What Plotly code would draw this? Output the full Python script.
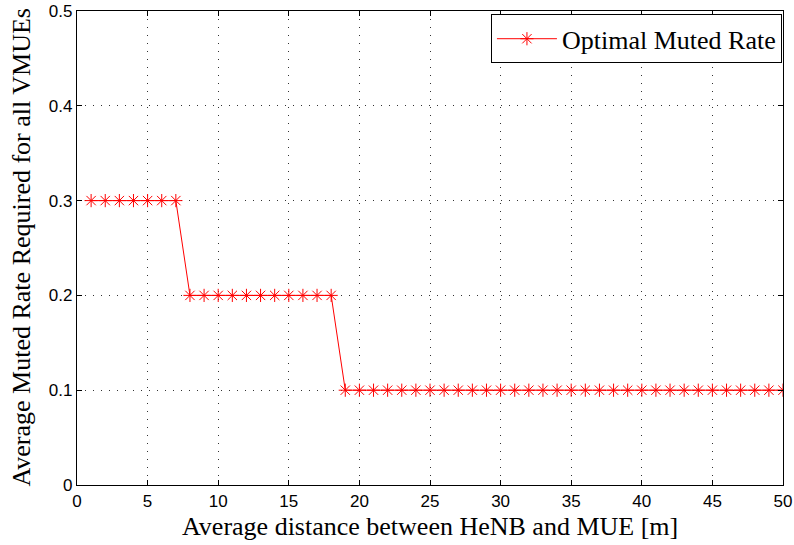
import plotly.graph_objects as go

distance = list(range(1, 51))
muted_rate = [0.3]*7 + [0.2]*11 + [0.1]*32
x_ticks = [0, 5, 10, 15, 20, 25, 30, 35, 40, 45, 50]
y_ticks = [0, 0.1, 0.2, 0.3, 0.4, 0.5]
y_labels = ["0", "0.1", "0.2", "0.3", "0.4", "0.5"]

serif = "Liberation Serif, Times New Roman, serif"
sans = "Liberation Sans, Arial, sans-serif"

fig = go.Figure()
fig.add_trace(go.Scatter(
    x=distance, y=muted_rate, mode="lines+markers",
    name="Optimal Muted Rate",
    line=dict(color="red", width=1),
    marker=dict(symbol="asterisk-open", size=11, color="red",
                line=dict(color="red", width=1)),
))

axis_common = dict(
    showline=True, linecolor="black", linewidth=1.3, mirror="allticks",
    ticks="inside", ticklen=5, tickcolor="black",
    showgrid=True, gridcolor="#333333", griddash="1px,7px", gridwidth=1,
    zeroline=False, automargin=False,
    tickfont=dict(family=sans, size=17, color="black"),
)

fig.update_xaxes(range=[0, 50], tickvals=x_ticks, **axis_common)
fig.update_yaxes(range=[0, 0.5], tickvals=y_ticks, ticktext=y_labels, **axis_common)

fig.add_annotation(text="Average distance between HeNB and MUE [m]",
                   xref="paper", yref="paper", x=0.5, y=-0.088,
                   xanchor="center", yanchor="middle", showarrow=False,
                   font=dict(family=serif, size=26, color="black"))
fig.add_annotation(text="Average Muted Rate Required for all VMUEs",
                   xref="paper", yref="paper", x=-0.08, y=0.5, textangle=-90,
                   xanchor="center", yanchor="middle", showarrow=False,
                   font=dict(family=serif, size=26, color="black"))

fig.update_layout(
    width=794, height=545,
    margin=dict(l=77, r=11, t=11, b=60),
    plot_bgcolor="white", paper_bgcolor="white",
    showlegend=True,
    legend=dict(x=0.9985, y=0.993, xanchor="right", yanchor="top",
                bordercolor="black", borderwidth=1, bgcolor="white",
                itemwidth=60, tracegroupgap=0,
                font=dict(family=serif, size=26, color="black")),
)

fig.write_html("out.html",
               config={"displayModeBar": False},
               post_script="document.body.style.margin='0';document.body.style.padding='0';")
